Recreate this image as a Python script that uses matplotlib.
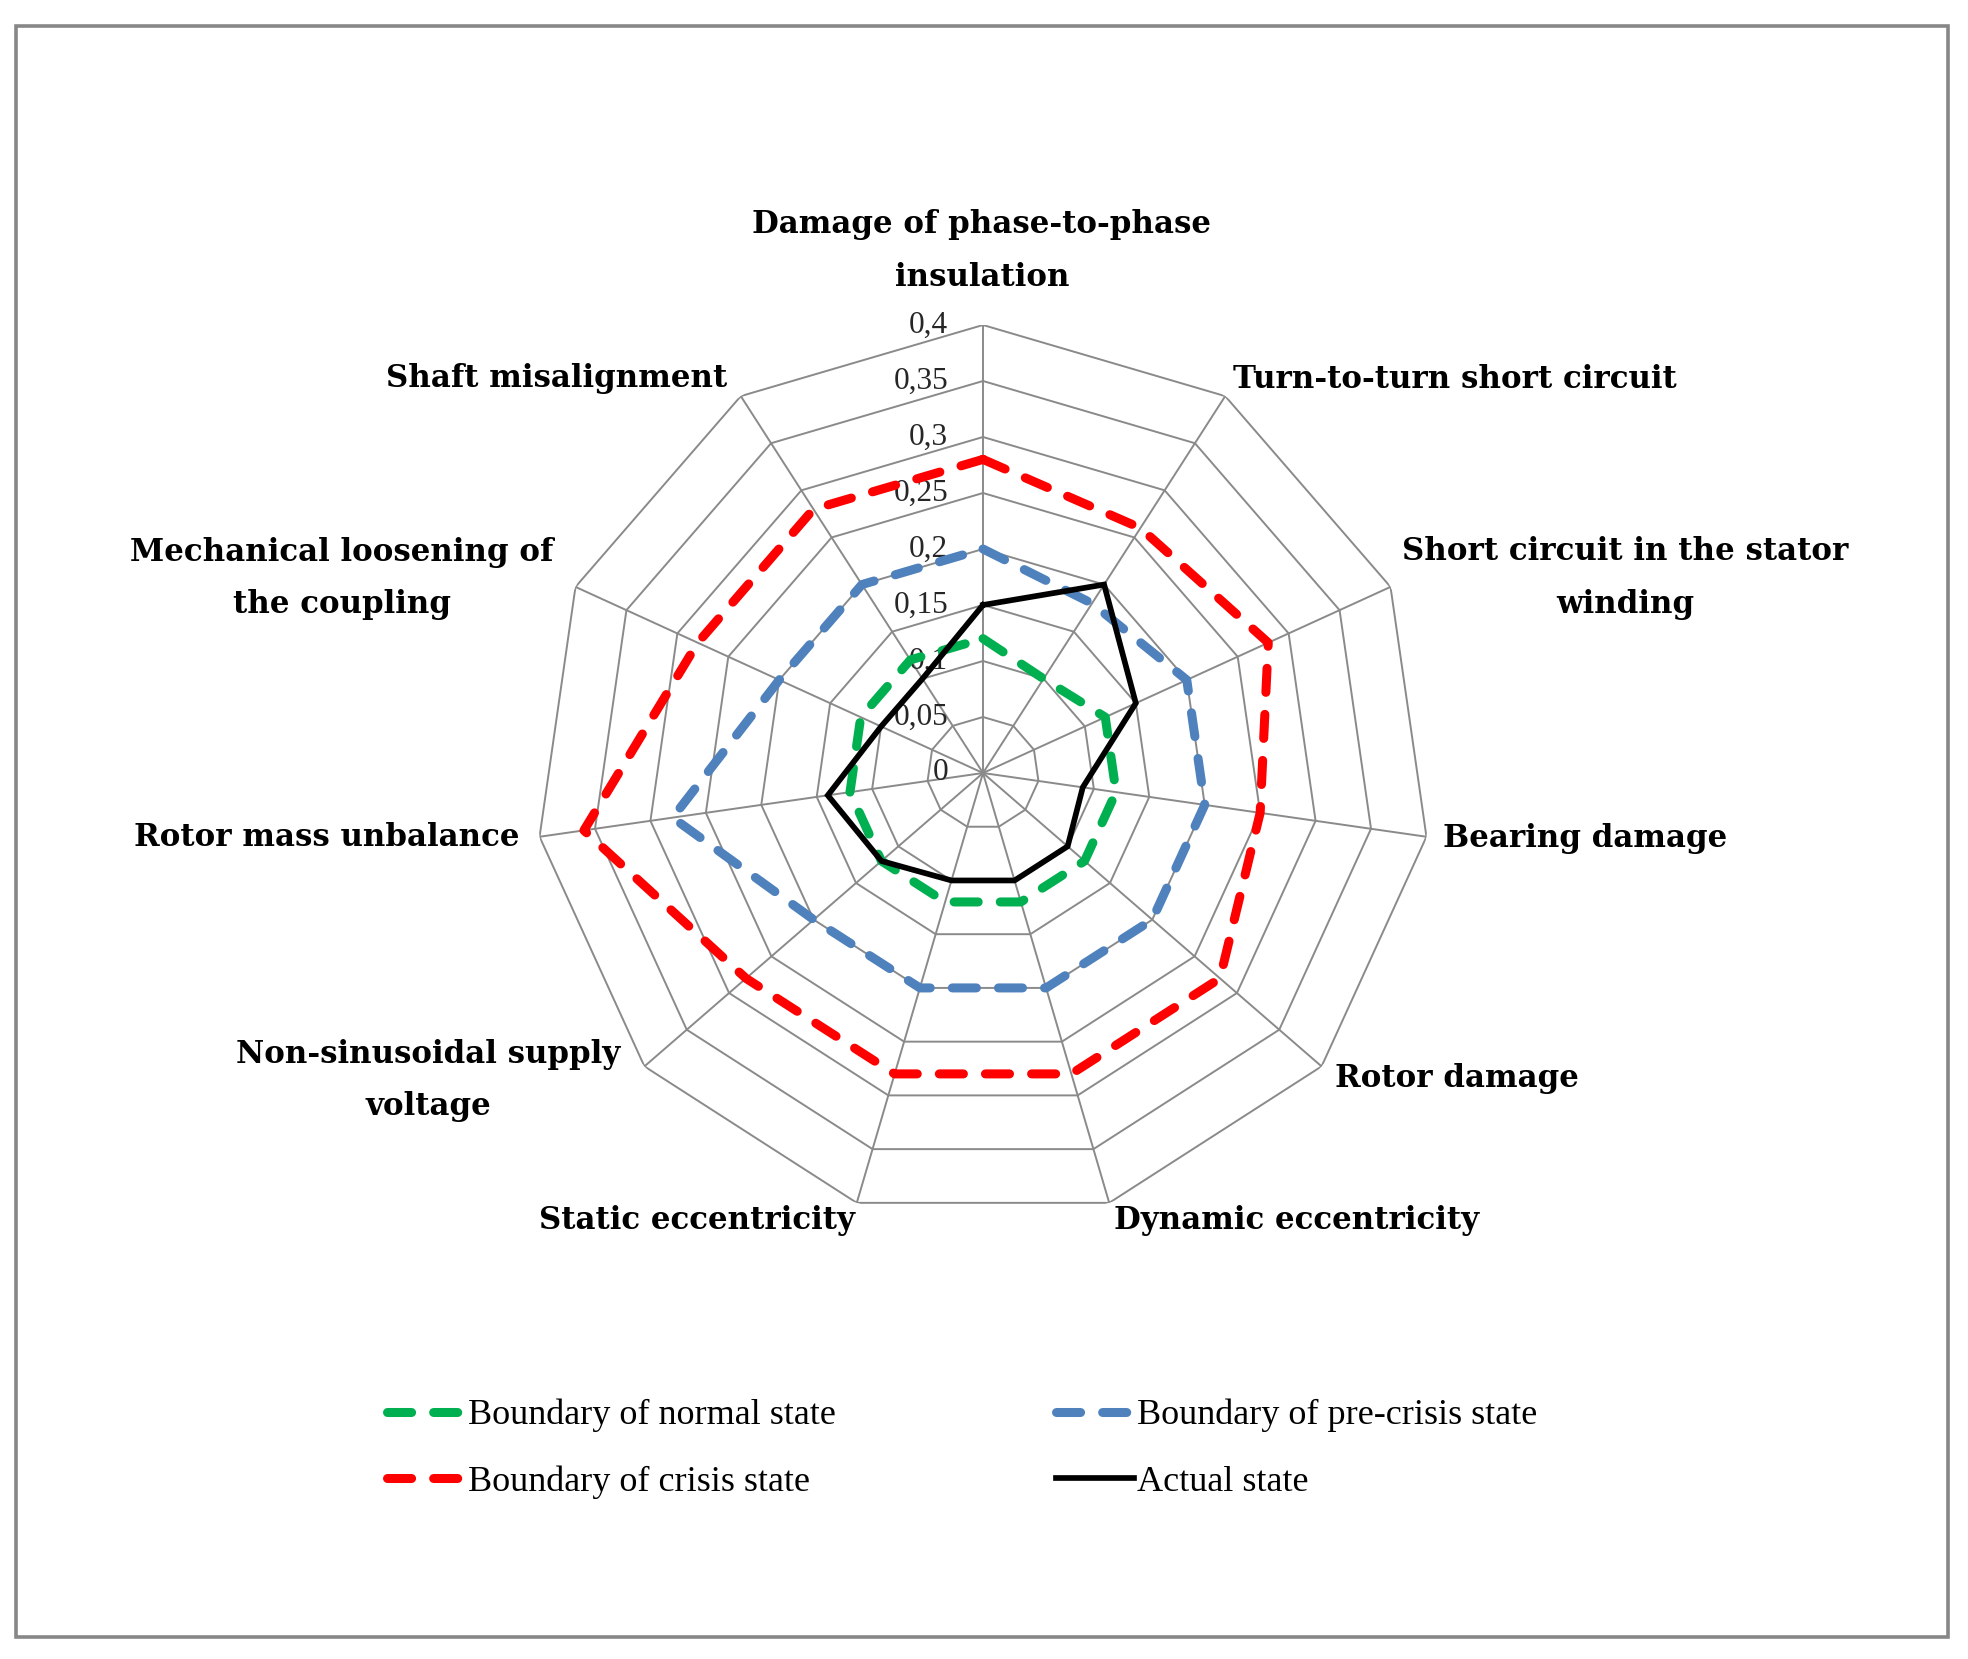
import numpy as np
import matplotlib
matplotlib.use("Agg")
import matplotlib.pyplot as plt
from matplotlib.patches import Rectangle

# ---------------- data ----------------
categories = [
    "Damage of phase-to-phase\ninsulation",
    "Turn-to-turn short circuit",
    "Short circuit in the stator\nwinding",
    "Bearing damage",
    "Rotor damage",
    "Dynamic eccentricity",
    "Static eccentricity",
    "Non-sinusoidal supply\nvoltage",
    "Rotor mass unbalance",
    "Mechanical loosening of\nthe coupling",
    "Shaft misalignment",
]
normal_state = [0.12, 0.10, 0.12, 0.12, 0.12, 0.12, 0.12, 0.12, 0.12, 0.12, 0.12]
pre_crisis_state = [0.20, 0.18, 0.20, 0.20, 0.20, 0.20, 0.20, 0.20, 0.28, 0.20, 0.20]
crisis_state = [0.28, 0.26, 0.28, 0.25, 0.28, 0.28, 0.28, 0.28, 0.36, 0.28, 0.28]
actual_state = [0.15, 0.20, 0.15, 0.09, 0.10, 0.10, 0.10, 0.12, 0.14, 0.10, 0.10]
series_names = ["Boundary of normal state", "Boundary of pre-crisis state",
                "Boundary of crisis state", "Actual state"]
r_ticks = [0, 0.05, 0.1, 0.15, 0.2, 0.25, 0.3, 0.35, 0.4]
r_tick_labels = ["0", "0,05", "0,1", "0,15", "0,2", "0,25", "0,3", "0,35", "0,4"]

# ---------------- layout ----------------
W, H = 1968, 1659
fig = plt.figure(figsize=(W / 100, H / 100), dpi=100)
fig.patch.set_facecolor("white")

cx, cy, R = 983, 773, 448
ax = fig.add_axes([(cx - R) / W, 1 - (cy + R) / H, 2 * R / W, 2 * R / H],
                  projection="polar")
ax.set_theta_offset(np.pi / 2)
ax.set_theta_direction(-1)
ax.set_ylim(0, 0.4)
ax.grid(False)
ax.set_xticks([])
ax.set_yticks([])
ax.spines["polar"].set_visible(False)
ax.patch.set_alpha(0)

n = len(categories)
theta = np.arange(n) * 2 * np.pi / n
theta_c = np.r_[theta, theta[0]]

grid_col = "#8a8a8a"
for r in r_ticks[1:]:
    ax.plot(theta_c, [r] * (n + 1), color=grid_col, lw=1.4, zorder=1)
for t in theta:
    ax.plot([t, t], [0, r_ticks[-1]], color=grid_col, lw=1.4, zorder=1)

for r, lab in zip(r_ticks, r_tick_labels):
    ax.annotate(lab, xy=(0, r), xytext=(-25, 0), textcoords="offset points",
                ha="right", va="center", fontsize=22.5, family="Liberation Serif",
                color="#262626", zorder=2)

def closed(v):
    return list(v) + [v[0]]

dash = (0, (2.67, 2.44))
dlw = 6.5
l_norm, = ax.plot(theta_c, closed(normal_state), color="#00b050", lw=dlw,
                  linestyle=dash, dash_capstyle="round", dash_joinstyle="round",
                  zorder=3, label=series_names[0])
l_pre, = ax.plot(theta_c, closed(pre_crisis_state), color="#4f81bd", lw=dlw,
                 linestyle=dash, dash_capstyle="round", dash_joinstyle="round",
                 zorder=3, label=series_names[1])
l_cri, = ax.plot(theta_c, closed(crisis_state), color="#ff0000", lw=dlw,
                 linestyle=dash, dash_capstyle="round", dash_joinstyle="round",
                 zorder=3, label=series_names[2])
l_act, = ax.plot(theta_c, closed(actual_state), color="#000000", lw=4.1,
                 solid_joinstyle="miter", zorder=4, label=series_names[3])

# category labels (centre of first line, px)
label_pos = [(982, 225), (1455, 379), (1625, 552), (1585, 838), (1457, 1079),
             (1297, 1221), (697, 1221), (428, 1054), (327, 838), (342, 552),
             (557, 379)]
line_gap = 52
for name, (px, py) in zip(categories, label_pos):
    for i, line in enumerate(name.split("\n")):
        fig.text(px / W, 1 - (py + i * line_gap) / H, line, ha="center",
                 va="center", fontsize=22.2, fontweight="bold",
                 family="DejaVu Serif", color="#000000")

leg = fig.legend([l_norm, l_cri, l_pre, l_act],
                 [series_names[0], series_names[2], series_names[1], series_names[3]],
                 ncol=2, loc="center", bbox_to_anchor=(962 / W, 1 - 1449 / H),
                 frameon=False, prop={"family": "Liberation Serif", "size": 26},
                 handlelength=2.16, handletextpad=0.08, columnspacing=6.1,
                 labelspacing=0.92)

fig.add_artist(Rectangle((16 / W, 1 - 1637 / H), (1948 - 16) / W, (1637 - 26) / H,
                         transform=fig.transFigure, fill=False,
                         edgecolor="#878787", lw=2.6))

fig.savefig("out.png", dpi=100)
